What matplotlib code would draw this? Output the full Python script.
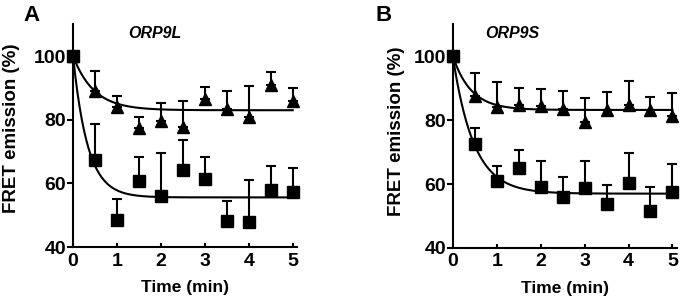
import numpy as np
import matplotlib
matplotlib.use("Agg")
import matplotlib.pyplot as plt

plt.rcParams['font.family'] = ['Liberation Sans', 'DejaVu Sans']
plt.rcParams['font.weight'] = 'bold'

time = [0, 0.5, 1, 1.5, 2, 2.5, 3, 3.5, 4, 4.5, 5]

# ORP9L
a_tri = [100, 89.0, 84.1, 77.5, 79.7, 77.8, 86.5, 83.4, 80.8, 90.9, 86.0]
a_tri_top = [100, 95.2, 87.5, 80.9, 85.2, 85.9, 90.2, 89.1, 90.5, 95.0, 90.0]
a_sq = [100, 67.2, 48.6, 60.9, 55.9, 64.3, 61.5, 48.2, 47.9, 57.8, 57.4]
a_sq_top = [100, 78.7, 55.1, 68.2, 69.7, 73.7, 68.4, 54.6, 61.0, 65.6, 64.9]

# ORP9S
b_tri = [100, 87.5, 84.0, 84.6, 84.4, 83.4, 79.5, 83.2, 84.7, 83.2, 81.4]
b_tri_top = [100, 94.9, 92.0, 90.2, 89.8, 89.2, 86.8, 88.7, 92.2, 87.1, 88.6]
b_sq = [100, 72.5, 61.1, 65.0, 59.0, 56.1, 58.9, 53.6, 60.4, 51.5, 57.4]
b_sq_top = [100, 77.6, 65.5, 70.6, 67.1, 62.2, 67.1, 59.8, 69.6, 59.0, 66.4]

# fitted one-phase decay: (plateau, rate)
a_fit = {'tri': (83.0, 2.1), 'sq': (55.6, 3.0)}
b_fit = {'tri': (83.2, 2.4), 'sq': (57.0, 2.1)}

fig = plt.figure(figsize=(6.83, 3.08), dpi=100)
axA = fig.add_axes([0.107, 0.198, 0.328, 0.723])
axB = fig.add_axes([0.663, 0.195, 0.328, 0.726])


def panel(ax, tri, tri_top, sq, sq_top, fit, name, name_x, letter, lx, ylab_xy, xlab_y):
    t = np.array(time)
    tt = np.linspace(0, 5, 200)
    for key in ('tri', 'sq'):
        plat, k = fit[key]
        ax.plot(tt, plat + (100 - plat) * np.exp(-k * tt), color='black', lw=1.5, zorder=2)
    for y, top, m, ms in ((tri, tri_top, '^', 8), (sq, sq_top, 's', 9)):
        y = np.array(y)
        err = np.array(top) - y
        ax.errorbar(t, y, yerr=[np.zeros_like(err), err], fmt='none', ecolor='black',
                    elinewidth=1.5, capsize=3.4, capthick=1.5, clip_on=False, zorder=3)
        ax.plot(t, y, m, color='black', ms=ms, clip_on=False, zorder=4)
    ax.set_xlim(0, 5.1)
    ax.set_ylim(40, 110)
    ax.set_xticks([0, 1, 2, 3, 4, 5])
    ax.set_yticks([40, 60, 80, 100])
    for s in ('top', 'right'):
        ax.spines[s].set_visible(False)
    for s in ('left', 'bottom'):
        ax.spines[s].set_linewidth(1.5)
    ax.tick_params(width=1.5, labelsize=14)
    ax.tick_params(axis='y', length=4, pad=1)
    ax.tick_params(axis='x', length=3, direction='in', pad=4)
    ax.set_xlabel('Time (min)', fontsize=12.5, fontweight='bold')
    ax.set_ylabel('FRET emission (%)', fontsize=13.5, fontweight='bold')
    ax.yaxis.set_label_coords(*ylab_xy)
    ax.xaxis.set_label_coords(0.5, xlab_y)
    ax.text(name_x, 107, name, fontsize=11.5, fontweight='bold', style='italic', ha='center', va='center')
    fig.text(lx, 0.95, letter, fontsize=16, fontweight='bold', ha='center', va='center')


panel(axA, a_tri, a_tri_top, a_sq, a_sq_top, a_fit, 'ORP9L', 1.86, 'A', 0.046,
      (-0.237, 0.534), -0.148)
panel(axB, b_tri, b_tri_top, b_sq, b_sq_top, b_fit, 'ORP9S', 1.36, 'B', 0.561,
      (-0.214, 0.52), -0.148)

fig.savefig('out.png', dpi=100)
